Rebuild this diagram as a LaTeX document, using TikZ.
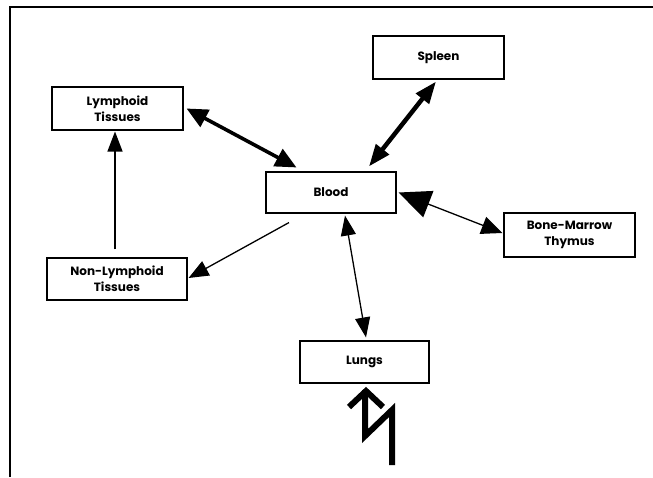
\documentclass[tikz,border=0pt]{standalone}
\usepackage{fontspec}
\setmainfont{Poppins}
\usetikzlibrary{arrows.meta,calc}
\begin{document}
\begin{tikzpicture}[x=1pt,y=-1pt,
  box/.style={draw=black,line width=1.1pt,rectangle,inner sep=0pt,
    align=center,font=\fontsize{12}{16}\selectfont\bfseries},
  thickarrow/.style={line width=3.6pt,{Triangle[length=21pt,width=19pt]}-{Triangle[length=21pt,width=19pt]}},
  thinarrow/.style={line width=1.3pt},
  zig/.style={line width=6pt,miter limit=10}]
\useasboundingbox (0,0) rectangle (653,477);
% frame
\draw[line width=2pt] (10,477) -- (10,7) -- (653,7);
% boxes
\node[box,minimum width=131pt,minimum height=43pt] (lymph) at (117.5,108.5) {Lymphoid\\Tissues};
\node[box,minimum width=131pt,minimum height=43pt] (spleen) at (438.5,57.5) {Spleen};
\node[box,minimum width=130pt,minimum height=41pt] (blood) at (331,192.5) {Blood};
\node[box,minimum width=131pt,minimum height=44pt] (bone) at (569.5,235) {Bone-Marrow\\Thymus};
\node[box,minimum width=140pt,minimum height=42pt] (nonl) at (117,279) {Non-Lymphoid\\Tissues};
\node[box,minimum width=129pt,minimum height=42pt] (lungs) at (364.5,362) {Lungs};
% connectors
\draw[thickarrow] ($(lymph.east)+(3,0)$) -- ($(blood.north west)+(31,-4)$);
\draw[thickarrow,line width=4.5pt,{Triangle[length=22pt,width=16pt]}-{Triangle[length=22pt,width=16pt]}] ($(spleen.south)+(-2.5,2)$) -- ($(blood.north)+(38,-5)$);
\draw[thinarrow,{Triangle[length=32pt,width=28pt]}-{Triangle[length=21pt,width=18pt]}] ($(blood.east)+(2,0)$) -- ($(bone.west)+(-1,-2)$);
\draw[thinarrow,-{Triangle[length=20pt,width=16pt]}] ($(blood.south)+(-42,9)$) -- ($(nonl.east)+(1,-1)$);
\draw[thinarrow,-{Triangle[length=20pt,width=15pt]}] ($(nonl.north)+(-2,-8)$) -- ($(lymph.south)+(-2.5,1)$);
\draw[thinarrow,{Triangle[length=20pt,width=15pt]}-{Triangle[length=20pt,width=15pt]}] ($(blood.south)+(14,2)$) -- ($(lungs.north)+(1.5,-3)$);
% lightning symbol below Lungs
\draw[zig] (349,407) -- (366,391) -- (383,407);
\draw[zig] (365,390) -- (365,436) -- (392,410) -- (392,465);
\end{tikzpicture}
\end{document}
